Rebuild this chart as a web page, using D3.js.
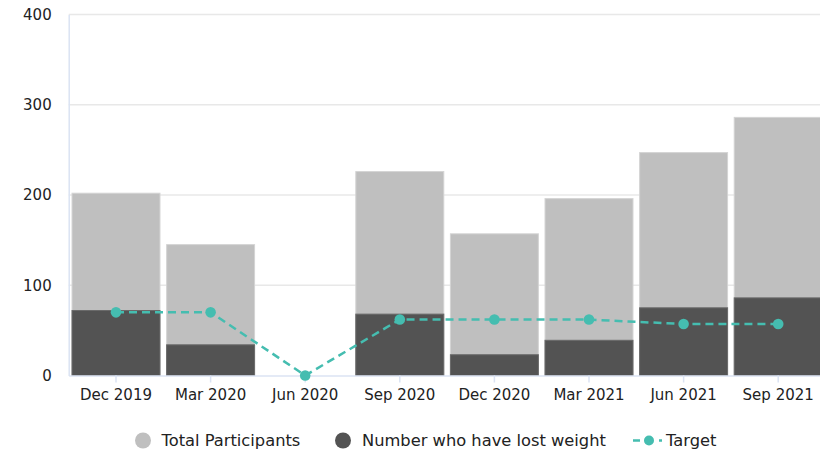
<!DOCTYPE html>
<html>
<head>
<meta charset="utf-8">
<script src="https://cdn.jsdelivr.net/npm/d3@7/dist/d3.min.js"></script>
<style>
  html, body { margin: 0; padding: 0; background: #fff; overflow: hidden; }
  svg { display: block; font-family: "DejaVu Sans", Verdana, sans-serif; }
</style>
</head>
<body>
<svg id="chart" width="830" height="452"></svg>
<script>
// Quarterly participation figures
const quarters = ["Dec 2019", "Mar 2020", "Jun 2020", "Sep 2020", "Dec 2020", "Mar 2021", "Jun 2021", "Sep 2021"];
const totalParticipants = [202, 145, 0, 226, 157, 196, 247, 286];
const lostWeight = [72, 34, 0, 68, 23, 39, 75, 86];
const target = [70, 70, 0, 62, 62, 62, 57, 57];
const yTicks = [0, 100, 200, 300, 400];

const colors = { total: "#bfbfbf", lost: "#535353", target: "#45bdb0" };

const svg = d3.select("#chart");
const plot = { left: 68.7, right: 825.5, top: 14.5, bottom: 375.5 };

const x = d3.scaleBand()
  .domain(quarters)
  .range([plot.left, plot.right])
  .paddingInner(0.07)
  .paddingOuter(0.035);

const y = d3.scaleLinear()
  .domain([0, 400])
  .range([plot.bottom, plot.top]);

// Horizontal gridlines
svg.append("g")
  .selectAll("line")
  .data(yTicks.filter(d => d > 0))
  .join("line")
  .attr("x1", plot.left).attr("x2", plot.right)
  .attr("y1", d => y(d)).attr("y2", d => y(d))
  .attr("stroke", "#e8e8e8").attr("stroke-width", 1.5);

// Y axis
const yAxis = svg.append("g")
  .attr("transform", `translate(${plot.left},0)`)
  .call(d3.axisLeft(y).tickValues(yTicks).tickSize(0).tickPadding(17));
yAxis.select(".domain").attr("stroke", "#dbe3f3").attr("stroke-width", 1.5);
yAxis.selectAll("text").attr("font-size", 15).attr("fill", "#222")
  .attr("font-family", "DejaVu Sans, Verdana, sans-serif");

// Bars: total behind, lost weight in front
const barGroup = svg.append("g");
barGroup.selectAll("rect.total")
  .data(quarters.map((q, i) => ({ q, v: totalParticipants[i] })).filter(d => d.v > 0))
  .join("rect")
  .attr("class", "total")
  .attr("x", d => x(d.q)).attr("width", x.bandwidth())
  .attr("y", d => y(d.v)).attr("height", d => y(0) - y(d.v))
  .attr("fill", colors.total).attr("stroke", "#d4d4d4").attr("stroke-width", 1);

barGroup.selectAll("rect.lost")
  .data(quarters.map((q, i) => ({ q, v: lostWeight[i] })).filter(d => d.v > 0))
  .join("rect")
  .attr("class", "lost")
  .attr("x", d => x(d.q)).attr("width", x.bandwidth())
  .attr("y", d => y(d.v)).attr("height", d => y(0) - y(d.v))
  .attr("fill", colors.lost).attr("stroke", "#6a6a6a").attr("stroke-width", 1);

// X axis
const xAxis = svg.append("g")
  .attr("transform", `translate(0,${plot.bottom})`)
  .call(d3.axisBottom(x).tickSize(7).tickPadding(7).tickSizeOuter(0));
xAxis.select(".domain").attr("stroke", "#dbe3f3").attr("stroke-width", 1.5);
xAxis.selectAll(".tick line").attr("stroke", "#dbe3f3").attr("stroke-width", 1.5);
xAxis.selectAll("text").attr("font-size", 15).attr("fill", "#222")
  .attr("font-family", "DejaVu Sans, Verdana, sans-serif");

// Target line
const cx = q => x(q) + x.bandwidth() / 2;
const targetData = quarters.map((q, i) => ({ q, v: target[i] }));
svg.append("path")
  .datum(targetData)
  .attr("fill", "none")
  .attr("stroke", colors.target)
  .attr("stroke-width", 2.5)
  .attr("stroke-dasharray", "8,5")
  .attr("d", d3.line().x(d => cx(d.q)).y(d => y(d.v)));
svg.append("g")
  .selectAll("circle")
  .data(targetData)
  .join("circle")
  .attr("cx", d => cx(d.q)).attr("cy", d => y(d.v))
  .attr("r", 5.3)
  .attr("fill", colors.target);

// Legend
const legend = svg.append("g").attr("font-size", 16.3).attr("fill", "#222");
const legendY = 440.5;
legend.append("circle").attr("cx", 143).attr("cy", legendY).attr("r", 8).attr("fill", colors.total);
legend.append("text").attr("x", 161.5).attr("y", legendY).attr("dy", "0.35em").text("Total Participants");
legend.append("circle").attr("cx", 343).attr("cy", legendY).attr("r", 8).attr("fill", colors.lost);
legend.append("text").attr("x", 362).attr("y", legendY).attr("dy", "0.35em").text("Number who have lost weight");
legend.append("line")
  .attr("x1", 633).attr("x2", 662).attr("y1", legendY).attr("y2", legendY)
  .attr("stroke", colors.target).attr("stroke-width", 2.5).attr("stroke-dasharray", "7,6");
legend.append("circle").attr("cx", 649).attr("cy", legendY).attr("r", 5).attr("fill", colors.target);
legend.append("text").attr("x", 666).attr("y", legendY).attr("dy", "0.35em").text("Target");
</script>
</body>
</html>
